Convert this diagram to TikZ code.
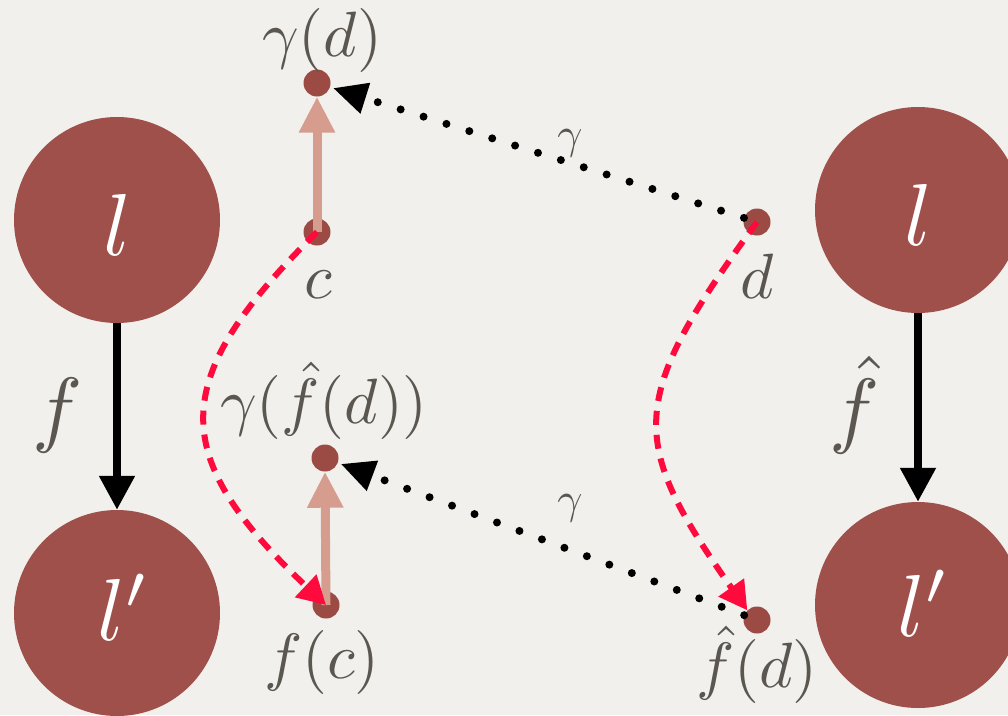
\documentclass[tikz,border=0pt]{standalone}
\usepackage{graphicx}
\usetikzlibrary{arrows.meta}
\definecolor{paper}{HTML}{F1F0EC}
\definecolor{brick}{HTML}{A0504A}
\definecolor{dotc}{HTML}{9C4A44}
\definecolor{pinkc}{HTML}{D69C8E}
\definecolor{redc}{HTML}{FF0A3C}
\definecolor{txt}{HTML}{5B5750}
\newcommand\sz[2]{\scalebox{#1}{$#2$}}
\tikzset{
  bigcirc/.style={circle, fill=brick, minimum size=206pt, inner sep=0pt},
  inl/.style={anchor=base, text=white, inner sep=0pt},
  pt/.style={circle, fill=dotc, minimum width=25pt, minimum height=27pt, inner sep=0pt},
  lab/.style={anchor=base, text=txt, inner sep=0pt},
  glab/.style={text=txt, inner sep=0pt},
  maparrow/.style={line width=8pt, -{Triangle[width=34pt,length=34pt]}},
  liftarrow/.style={pinkc, line width=9pt, -{Triangle[width=34pt,length=36pt]}},
  gammaarrow/.style={line width=8pt, line cap=round, dash pattern=on 0pt off 24pt, -{Triangle[width=30pt,length=34pt]}},
  transarrow/.style={redc, line width=6pt, dash pattern=on 14pt off 10pt, -{Triangle[width=30pt,length=28pt]}}
}
\begin{document}
\begin{tikzpicture}[x=1pt,y=-1pt]
\fill[paper] (0,0) rectangle (1008,715);
\useasboundingbox (0,0) rectangle (1008,715);
\begin{scope}
\clip (0,0) rectangle (1008,715);
\node[bigcirc] (L1) at (117,220) {};
\node[bigcirc] (L1p) at (117,613) {};
\node[bigcirc] (L2) at (918,210) {};
\node[bigcirc] (L2p) at (918,605) {};
\end{scope}
\node[inl] (tl1) at (117,255) {\sz{8.8}{l}};
\node[inl] (tl1p) at (124,640) {\sz{8.8}{l'}};
\node[inl] (tl2) at (918,245) {\sz{8.8}{l}};
\node[inl] (tl2p) at (924,636) {\sz{8.8}{l'}};
% points
\node[pt] (gd) at (317,83) {};
\node[pt] (c) at (317,232) {};
\node[pt] (gfd) at (325,458) {};
\node[pt] (fc) at (326,605) {};
\node[pt] (d) at (757,222) {};
\node[pt] (fd) at (757,620) {};
% labels
\node[lab] (lgd) at (322,56) {\sz{6.4}{\gamma(d)}};
\node[lab] (lc) at (318,298) {\sz{6.4}{c}};
\node[lab] (lgfd) at (324,423) {\sz{6.4}{\gamma(\hat{f}(d))}};
\node[lab] (lfc) at (322,678) {\sz{6.4}{f(c)}};
\node[lab] (ld) at (757,298) {\sz{6.4}{d}};
\node[lab] (lfd) at (757,687) {\sz{6.4}{\hat{f}(d)}};
\node[lab] (lf) at (58,436) {\sz{8.4}{f}};
\node[lab] (lfh) at (855,437) {\sz{8.4}{\hat{f}}};
% maps
\draw[maparrow] (L1.south) -- (L1p.north);
\draw[maparrow] (L2.south) -- (L2p.north);
% lifts
\draw[liftarrow] (c.center) -- (gd.south);
\draw[liftarrow] (fc.center) -- (gfd.south);
% gamma
\draw[gammaarrow, shorten >=3pt] (d) -- (gd);
\node[glab] (g1) at (570,143) {\sz{4.4}{\gamma}};
\draw[gammaarrow, shorten >=3pt] (fd) -- (gfd);
\node[glab] (g2) at (570,508) {\sz{4.4}{\gamma}};
% transport
\draw[transarrow] (c.center) .. controls (167,380) and (167,455) .. (fc.center);
\draw[transarrow] (d.center) .. controls (627,400) and (627,440) .. (fd.north west);
\end{tikzpicture}
\end{document}
